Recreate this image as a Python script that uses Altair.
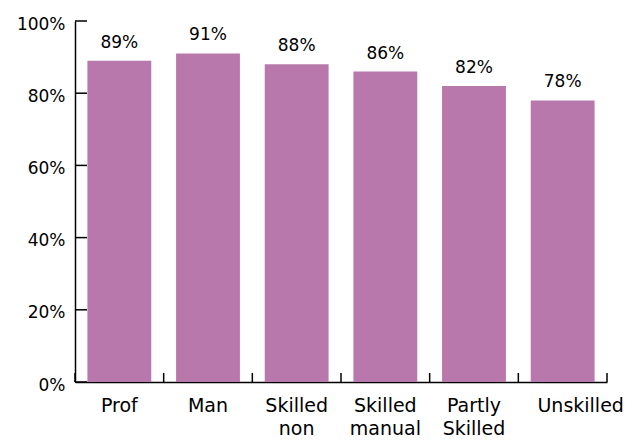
import altair as alt
import pandas as pd

categories = ["Prof", "Man", "Skilled|non", "Skilled|manual", "Partly|Skilled", "Unskilled"]
values = [89, 91, 88, 86, 82, 78]
y_ticks = [0, 20, 40, 60, 80, 100]
band_edges = [0, 1, 2, 3, 4, 5, 6]

df = pd.DataFrame({"cat": categories, "val": values})
df["label"] = df["val"].astype(str) + "%"
ytick_df = pd.DataFrame({"val": y_ticks})
xtick_df = pd.DataFrame({"pos": band_edges})

W, H = 532, 361
BAR = "#b878ab"
FONT = "DejaVu Sans"

xscale = alt.Scale(paddingInner=0.28, paddingOuter=0.14)
yscale = alt.Scale(domain=[0, 100], nice=False)

yaxis = alt.Axis(title=None, values=y_ticks, grid=False, ticks=False, tickSize=0,
                 domain=True, domainColor="black", domainWidth=1.5,
                 labelExpr="datum.value + '%'",
                 labelFont=FONT, labelFontSize=17, labelColor="black",
                 labelPadding=10, labelOffset=3)

base = alt.Chart(df)

bars = base.mark_bar(color=BAR).encode(
    x=alt.X("cat:N", sort=categories, scale=xscale,
            axis=alt.Axis(title=None, labelAngle=0, ticks=False, tickSize=0,
                          domain=True, domainColor="black", domainWidth=1.5,
                          labelExpr="split(datum.label, '|')",
                          labelFont=FONT, labelFontSize=19, labelColor="black",
                          labelLineHeight=23, labelPadding=14,
                          labelOffset={"condition": {"test": "datum.value == 'Unskilled'", "value": 18}, "value": 0})),
    y=alt.Y("val:Q", scale=yscale, axis=yaxis),
)

text = base.mark_text(baseline="alphabetic", dy=-13, font=FONT, fontSize=17, color="black").encode(
    x=alt.X("cat:N", sort=categories, scale=xscale, axis=None),
    y=alt.Y("val:Q", scale=yscale, axis=yaxis),
    text="label:N",
)

yticks = alt.Chart(ytick_df).mark_rule(color="black", strokeWidth=1.5).encode(
    y=alt.Y("val:Q", scale=yscale, axis=yaxis),
    x=alt.value(0),
    x2=alt.value(12),
)

xticks = alt.Chart(xtick_df).mark_rule(color="black", strokeWidth=1.5).encode(
    x=alt.X("pos:Q", scale=alt.Scale(domain=[0, 6], nice=False, zero=False), axis=None),
    y=alt.value(H - 9),
    y2=alt.value(H),
)

chart = alt.layer(yticks, xticks, bars, text).resolve_scale(x="independent").resolve_axis(x="independent").properties(
    width=W, height=H,
    autosize=alt.AutoSizeParams(type="none"),
    padding={"left": 67, "top": 13, "right": 18, "bottom": 60},
).configure_view(stroke=None)

chart.save("out.html", embed_options={"renderer": "svg", "actions": False})
